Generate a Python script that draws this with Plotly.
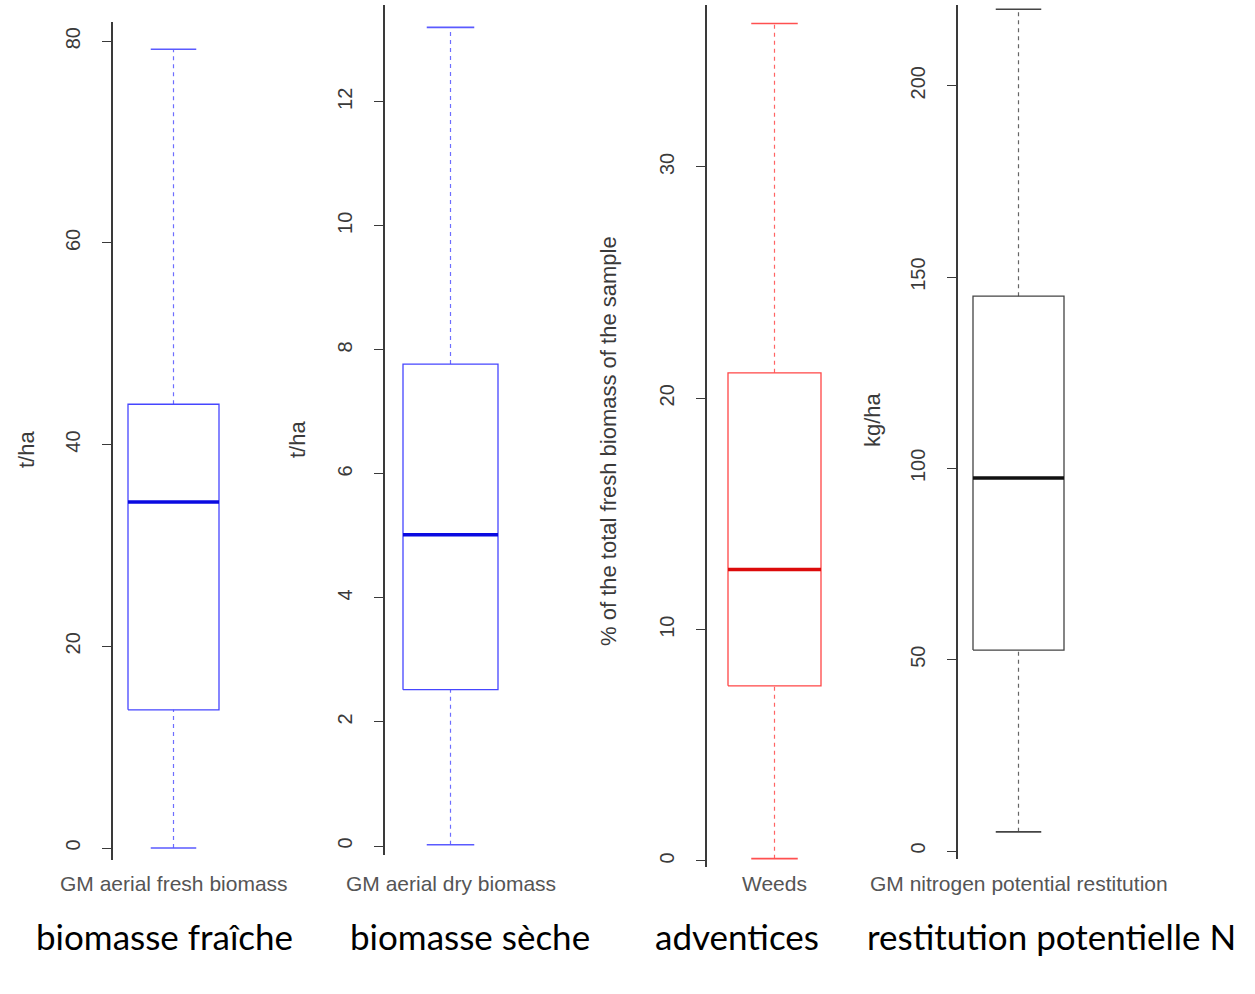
import plotly.graph_objects as go

# ---------------- data ----------------
categories = ["GM aerial fresh biomass", "GM aerial dry biomass", "Weeds",
              "GM nitrogen potential restitution"]
captions = ["biomasse fraîche", "biomasse sèche", "adventices", "restitution potentielle N"]
y_titles = ["t/ha", "t/ha", "% of the total fresh biomass of the sample", "kg/ha"]
mins = [0.0, 0.02, 0.1, 5.0]
q1s = [13.7, 2.52, 7.57, 52.5]
medians = [34.3, 5.02, 12.6, 97.5]
q3s = [44.0, 7.77, 21.1, 145.0]
maxs = [79.2, 13.2, 36.2, 220.0]
tick_values = [[0, 20, 40, 60, 80], [0, 2, 4, 6, 8, 10, 12], [0, 10, 20, 30],
               [0, 50, 100, 150, 200]]

# ---------------- layout constants (pixels) ----------------
W, H = 1255, 994
AXIS_PX = [113, 385, 707, 958]
BOX_PX = [(128, 219), (403, 498), (728, 821), (973, 1064)]
Y_SPAN_PX = [(22, 860), (5, 855), (5, 867), (5, 859)]
Y_RANGES = [(-1.19, 81.9), (-0.145, 13.56), (-0.26, 37.0), (-2.09, 221.1)]
YTITLE_PX = [27, 297, 608, 872]
YTITLE_Y = [450, 440, 441, 420]
BORDER = ["rgb(70,70,255)", "rgb(70,70,255)", "rgb(255,70,70)", "#444444"]
MEDIAN = ["rgb(10,10,225)", "rgb(10,10,225)", "rgb(220,10,10)", "#111111"]
WHISK = ["rgb(110,110,255)", "rgb(110,110,255)", "rgb(255,100,100)", "#666666"]
CAP = ["rgb(90,90,255)", "rgb(90,90,255)", "rgb(255,80,80)", "#444444"]

R_FONT = "Liberation Sans, Arial, sans-serif"


def px_x(p):
    return p / W


def px_y(p):
    return 1 - p / H


fig = go.Figure()
layout = dict(
    width=W, height=H, margin=dict(l=0, r=0, t=0, b=0),
    paper_bgcolor="white", plot_bgcolor="white", showlegend=False,
    hovermode=False, annotations=[],
)

half = 0.4
cap_half = 0.2
for i in range(4):
    sfx = "" if i == 0 else str(i + 1)
    xa, ya = "x" + sfx, "y" + sfx
    a = AXIS_PX[i]
    L, R = BOX_PX[i]
    s = (R - L) / (2 * half)
    c = (L + R) / 2
    ext = (c - a) / s
    right_px = 2 * c - a
    top, bot = Y_SPAN_PX[i]

    layout["xaxis" + sfx] = dict(
        domain=[px_x(a), px_x(right_px)], range=[1 - ext, 1 + ext],
        showline=False, showgrid=False, zeroline=False, showticklabels=False,
        ticks="", anchor=ya, fixedrange=True,
    )
    layout["yaxis" + sfx] = dict(
        domain=[px_y(bot), px_y(top)], range=list(Y_RANGES[i]),
        showline=True, linecolor="#3a3a3a", linewidth=1.6,
        showgrid=False, zeroline=False,
        ticks="outside", ticklen=9, tickwidth=1.4, tickcolor="#3a3a3a",
        tickvals=tick_values[i], ticktext=[str(v) for v in tick_values[i]],
        tickangle=-90, ticklabelstandoff=14,
        tickfont=dict(family=R_FONT, size=20, color="#3a3a3a"),
        anchor=xa, fixedrange=True,
    )

    lo, q1, md, q3, hi = mins[i], q1s[i], medians[i], q3s[i], maxs[i]
    # whiskers (dashed)
    fig.add_trace(go.Scatter(x=[1, 1], y=[q3, hi], mode="lines", xaxis=xa, yaxis=ya,
                             line=dict(color=WHISK[i], width=1.2, dash="4px,4px")))
    fig.add_trace(go.Scatter(x=[1, 1], y=[lo, q1], mode="lines", xaxis=xa, yaxis=ya,
                             line=dict(color=WHISK[i], width=1.2, dash="4px,4px")))
    # staples
    fig.add_trace(go.Scatter(x=[1 - cap_half, 1 + cap_half], y=[hi, hi], mode="lines",
                             xaxis=xa, yaxis=ya, line=dict(color=CAP[i], width=1.6)))
    fig.add_trace(go.Scatter(x=[1 - cap_half, 1 + cap_half], y=[lo, lo], mode="lines",
                             xaxis=xa, yaxis=ya, line=dict(color=CAP[i], width=1.6)))
    # box
    fig.add_trace(go.Scatter(x=[1 - half, 1 + half, 1 + half, 1 - half, 1 - half],
                             y=[q1, q1, q3, q3, q1], mode="lines", xaxis=xa, yaxis=ya,
                             line=dict(color=BORDER[i], width=1.3)))
    # median
    fig.add_trace(go.Scatter(x=[1 - half, 1 + half], y=[md, md], mode="lines",
                             xaxis=xa, yaxis=ya, line=dict(color=MEDIAN[i], width=3.5)))

    # y title
    layout["annotations"].append(dict(
        text=y_titles[i], xref="paper", yref="paper",
        x=px_x(YTITLE_PX[i]), y=px_y(YTITLE_Y[i]), textangle=-90, showarrow=False,
        xanchor="center", yanchor="middle",
        font=dict(family=R_FONT, size=22, color="#3a3a3a")))
    # category label
    layout["annotations"].append(dict(
        text=categories[i], xref=xa, yref="paper", x=1, y=px_y(883), showarrow=False,
        xanchor="center", yanchor="middle",
        font=dict(family=R_FONT, size=21, color="#555555")))

CAPTION_X = [164, 470, 737, 1051]
for i in range(4):
    layout["annotations"].append(dict(
        text=captions[i], xref="paper", yref="paper", x=px_x(CAPTION_X[i]), y=px_y(936),
        showarrow=False, xanchor="center", yanchor="middle",
        font=dict(family="Lato, Carlito, sans-serif", size=35, color="black")))

fig.update_layout(**layout)
fig.write_html("out.html", config={"displayModeBar": False},
               post_script="document.body.style.margin='0';document.body.style.overflow='hidden';")
